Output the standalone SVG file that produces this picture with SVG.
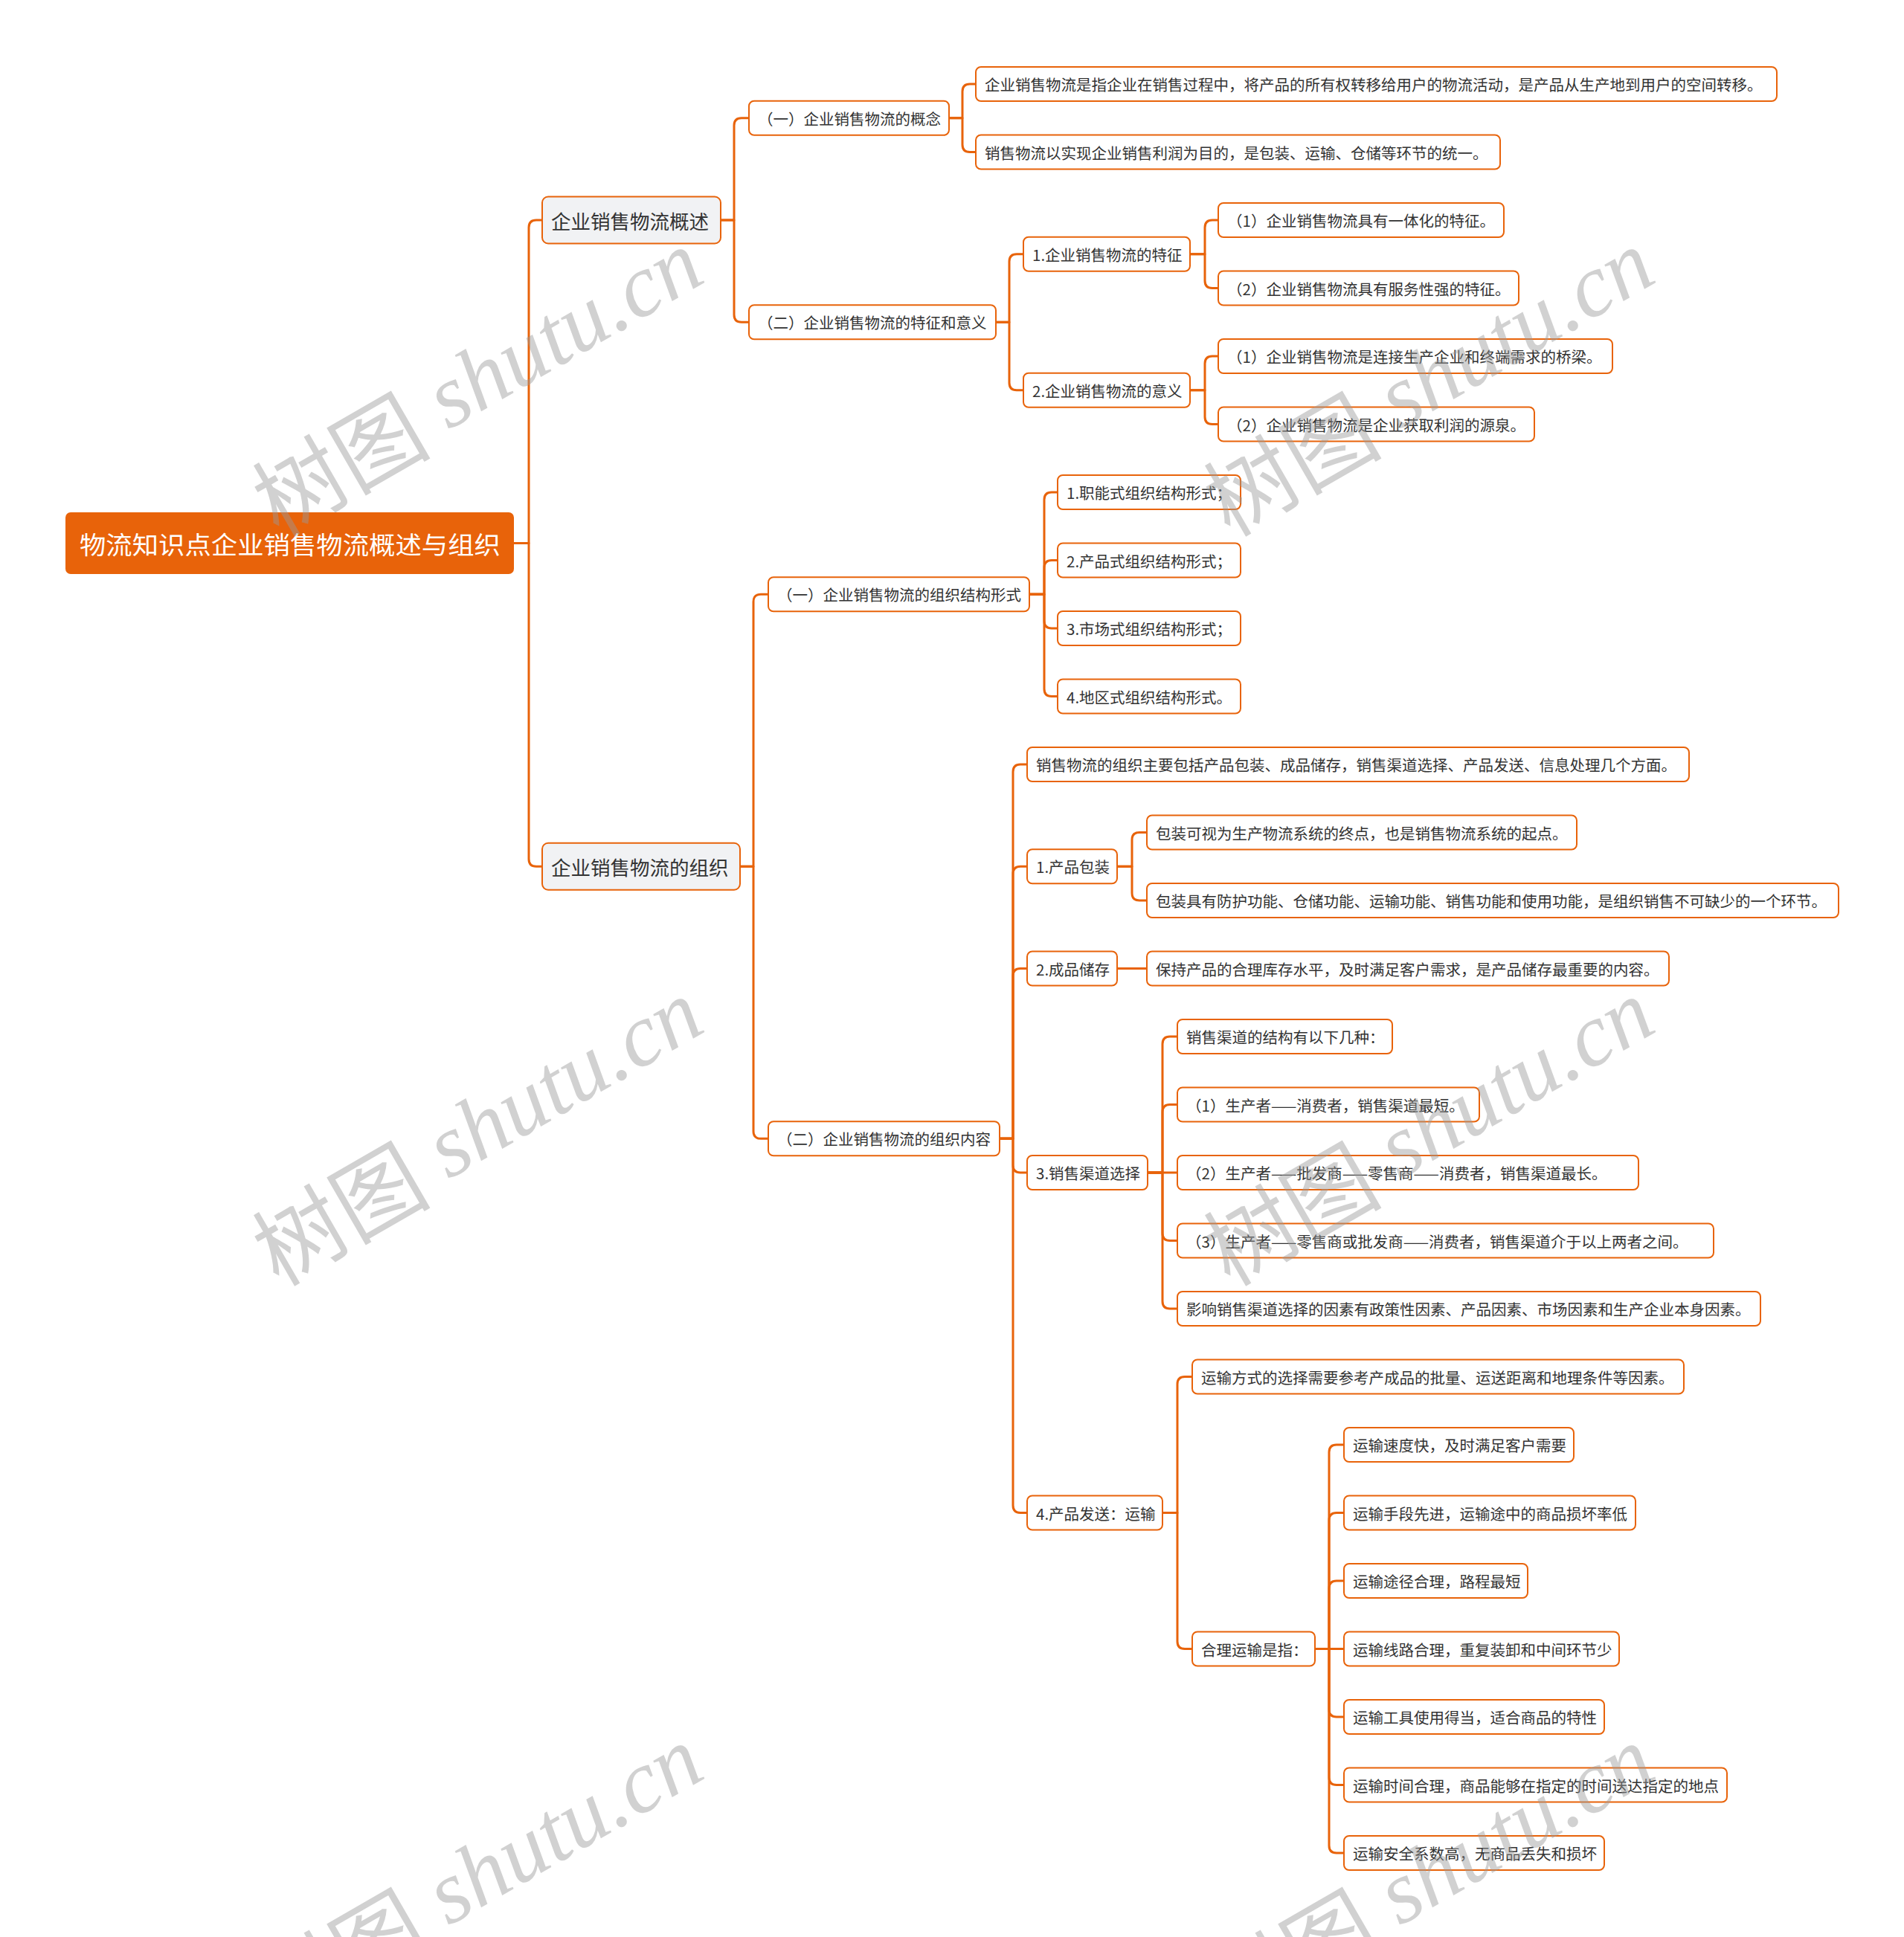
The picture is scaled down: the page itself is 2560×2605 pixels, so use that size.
<svg xmlns="http://www.w3.org/2000/svg" width="2560" height="2605" viewBox="0 0 2560 2605">
<style>
.c{fill:none;stroke:#E8630A;stroke-width:3;stroke-linejoin:round}
.b{fill:#fff;stroke:#E8630A;stroke-width:2}
.l1{fill:#F1F2F4;stroke:#E8630A;stroke-width:2}
.root{fill:#E8630A}
.t{font-family:"Noto Sans CJK SC","Noto Sans",sans-serif;font-size:20.5px;fill:#333;dominant-baseline:central}
.t1{font-family:"Noto Sans CJK SC","Noto Sans",sans-serif;font-size:26.5px;fill:#333;dominant-baseline:central}
.tr{font-family:"Noto Sans CJK SC","Noto Sans",sans-serif;font-size:33.5px;fill:#fff;dominant-baseline:central}
.wm{font-size:120px;fill:#9a9a9a;opacity:0.45;text-anchor:middle;dominant-baseline:central}
.wc{font-family:"Noto Sans CJK SC",sans-serif}
.ws{font-family:"Liberation Serif",serif;font-style:italic}
</style>
<rect width="2560" height="2605" fill="#fff"/>
<g id="connectors">
<path class="c" d="M691 730.6 H711 V306 Q711 296 721 296 H729"/>
<path class="c" d="M691 730.6 H711 V1155.25 Q711 1165.25 721 1165.25 H729"/>
<path class="c" d="M969 296 H987 V168.75 Q987 158.75 997 158.75 H1007"/>
<path class="c" d="M969 296 H987 V423.25 Q987 433.25 997 433.25 H1007"/>
<path class="c" d="M1276 158.75 H1294 V123 Q1294 113 1304 113 H1312"/>
<path class="c" d="M1276 158.75 H1294 V194.5 Q1294 204.5 1304 204.5 H1312"/>
<path class="c" d="M1339 433.25 H1357 V351.75 Q1357 341.75 1367 341.75 H1376"/>
<path class="c" d="M1339 433.25 H1357 V514.75 Q1357 524.75 1367 524.75 H1376"/>
<path class="c" d="M1600 341.75 H1620 V306 Q1620 296 1630 296 H1638"/>
<path class="c" d="M1600 341.75 H1620 V377.5 Q1620 387.5 1630 387.5 H1638"/>
<path class="c" d="M1600 524.75 H1620 V489 Q1620 479 1630 479 H1638"/>
<path class="c" d="M1600 524.75 H1620 V560.5 Q1620 570.5 1630 570.5 H1638"/>
<path class="c" d="M995 1165.25 H1013 V809.25 Q1013 799.25 1023 799.25 H1033"/>
<path class="c" d="M995 1165.25 H1013 V1521.25 Q1013 1531.25 1023 1531.25 H1033"/>
<path class="c" d="M1384 799.25 H1404 V672 Q1404 662 1414 662 H1422"/>
<path class="c" d="M1384 799.25 H1404 V763.5 Q1404 753.5 1414 753.5 H1422"/>
<path class="c" d="M1384 799.25 H1404 V835 Q1404 845 1414 845 H1422"/>
<path class="c" d="M1384 799.25 H1404 V926.5 Q1404 936.5 1414 936.5 H1422"/>
<path class="c" d="M1344 1531.25 H1362 V1038 Q1362 1028 1372 1028 H1381"/>
<path class="c" d="M1344 1531.25 H1362 V1175.25 Q1362 1165.25 1372 1165.25 H1381"/>
<path class="c" d="M1344 1531.25 H1362 V1312.5 Q1362 1302.5 1372 1302.5 H1381"/>
<path class="c" d="M1344 1531.25 H1362 V1567 Q1362 1577 1372 1577 H1381"/>
<path class="c" d="M1344 1531.25 H1362 V2024.5 Q1362 2034.5 1372 2034.5 H1381"/>
<path class="c" d="M1502 1165.25 H1522 V1129.5 Q1522 1119.5 1532 1119.5 H1542"/>
<path class="c" d="M1502 1165.25 H1522 V1201 Q1522 1211 1532 1211 H1542"/>
<path class="c" d="M1502 1302.5 H1542"/>
<path class="c" d="M1543 1577 H1563 V1404 Q1563 1394 1573 1394 H1583"/>
<path class="c" d="M1543 1577 H1563 V1495.5 Q1563 1485.5 1573 1485.5 H1583"/>
<path class="c" d="M1543 1577 H1583"/>
<path class="c" d="M1543 1577 H1563 V1658.5 Q1563 1668.5 1573 1668.5 H1583"/>
<path class="c" d="M1543 1577 H1563 V1750 Q1563 1760 1573 1760 H1583"/>
<path class="c" d="M1563 2034.5 H1583 V1861.5 Q1583 1851.5 1593 1851.5 H1603"/>
<path class="c" d="M1563 2034.5 H1583 V2207.5 Q1583 2217.5 1593 2217.5 H1603"/>
<path class="c" d="M1768 2217.5 H1787 V1953 Q1787 1943 1797 1943 H1807"/>
<path class="c" d="M1768 2217.5 H1787 V2044.5 Q1787 2034.5 1797 2034.5 H1807"/>
<path class="c" d="M1768 2217.5 H1787 V2136 Q1787 2126 1797 2126 H1807"/>
<path class="c" d="M1768 2217.5 H1807"/>
<path class="c" d="M1768 2217.5 H1787 V2299 Q1787 2309 1797 2309 H1807"/>
<path class="c" d="M1768 2217.5 H1787 V2390.5 Q1787 2400.5 1797 2400.5 H1807"/>
<path class="c" d="M1768 2217.5 H1787 V2482 Q1787 2492 1797 2492 H1807"/>
</g>
<g id="root"><rect class="root" x="88" y="689" width="603" height="83" rx="7"/><text class="tr" x="107" y="730.6" textLength="566" lengthAdjust="spacingAndGlyphs">物流知识点企业销售物流概述与组织</text></g>
<g id="n1"><rect class="l1" x="729" y="264.5" width="240" height="63" rx="8"/><text class="t1" x="741" y="296">企业销售物流概述</text></g>
<g id="n2"><rect class="l1" x="729" y="1133.75" width="266" height="63" rx="8"/><text class="t1" x="741" y="1165.25">企业销售物流的组织</text></g>
<g id="n1a"><rect class="b" x="1007" y="135.75" width="269" height="46" rx="7"/><text class="t" x="1019" y="158.75">（一）企业销售物流的概念</text></g>
<g id="n1b"><rect class="b" x="1007" y="410.25" width="332" height="46" rx="7"/><text class="t" x="1019" y="433.25">（二）企业销售物流的特征和意义</text></g>
<g id="n1a1"><rect class="b" x="1312" y="90" width="1077" height="46" rx="7"/><text class="t" x="1324" y="113">企业销售物流是指企业在销售过程中，将产品的所有权转移给用户的物流活动，是产品从生产地到用户的空间转移。</text></g>
<g id="n1a2"><rect class="b" x="1312" y="181.5" width="705" height="46" rx="7"/><text class="t" x="1324" y="204.5">销售物流以实现企业销售利润为目的，是包装、运输、仓储等环节的统一。</text></g>
<g id="n1b1"><rect class="b" x="1376" y="318.75" width="224" height="46" rx="7"/><text class="t" x="1388" y="341.75">1.企业销售物流的特征</text></g>
<g id="n1b2"><rect class="b" x="1376" y="501.75" width="224" height="46" rx="7"/><text class="t" x="1388" y="524.75">2.企业销售物流的意义</text></g>
<g id="n1b1a"><rect class="b" x="1638" y="273" width="384" height="46" rx="7"/><text class="t" x="1650" y="296">（1）企业销售物流具有一体化的特征。</text></g>
<g id="n1b1b"><rect class="b" x="1638" y="364.5" width="404" height="46" rx="7"/><text class="t" x="1650" y="387.5">（2）企业销售物流具有服务性强的特征。</text></g>
<g id="n1b2a"><rect class="b" x="1638" y="456" width="530" height="46" rx="7"/><text class="t" x="1650" y="479">（1）企业销售物流是连接生产企业和终端需求的桥梁。</text></g>
<g id="n1b2b"><rect class="b" x="1638" y="547.5" width="425" height="46" rx="7"/><text class="t" x="1650" y="570.5">（2）企业销售物流是企业获取利润的源泉。</text></g>
<g id="n2a"><rect class="b" x="1033" y="776.25" width="351" height="46" rx="7"/><text class="t" x="1045" y="799.25">（一）企业销售物流的组织结构形式</text></g>
<g id="n2b"><rect class="b" x="1033" y="1508.25" width="311" height="46" rx="7"/><text class="t" x="1045" y="1531.25">（二）企业销售物流的组织内容</text></g>
<g id="n2a1"><rect class="b" x="1422" y="639" width="246" height="46" rx="7"/><text class="t" x="1434" y="662">1.职能式组织结构形式；</text></g>
<g id="n2a2"><rect class="b" x="1422" y="730.5" width="246" height="46" rx="7"/><text class="t" x="1434" y="753.5">2.产品式组织结构形式；</text></g>
<g id="n2a3"><rect class="b" x="1422" y="822" width="246" height="46" rx="7"/><text class="t" x="1434" y="845">3.市场式组织结构形式；</text></g>
<g id="n2a4"><rect class="b" x="1422" y="913.5" width="246" height="46" rx="7"/><text class="t" x="1434" y="936.5">4.地区式组织结构形式。</text></g>
<g id="n2b0"><rect class="b" x="1381" y="1005" width="890" height="46" rx="7"/><text class="t" x="1393" y="1028">销售物流的组织主要包括产品包装、成品储存，销售渠道选择、产品发送、信息处理几个方面。</text></g>
<g id="n2b1"><rect class="b" x="1381" y="1142.25" width="121" height="46" rx="7"/><text class="t" x="1393" y="1165.25">1.产品包装</text></g>
<g id="n2b1a"><rect class="b" x="1542" y="1096.5" width="578" height="46" rx="7"/><text class="t" x="1554" y="1119.5">包装可视为生产物流系统的终点，也是销售物流系统的起点。</text></g>
<g id="n2b1b"><rect class="b" x="1542" y="1188" width="930" height="46" rx="7"/><text class="t" x="1554" y="1211">包装具有防护功能、仓储功能、运输功能、销售功能和使用功能，是组织销售不可缺少的一个环节。</text></g>
<g id="n2b2"><rect class="b" x="1381" y="1279.5" width="121" height="46" rx="7"/><text class="t" x="1393" y="1302.5">2.成品储存</text></g>
<g id="n2b2a"><rect class="b" x="1542" y="1279.5" width="702" height="46" rx="7"/><text class="t" x="1554" y="1302.5">保持产品的合理库存水平，及时满足客户需求，是产品储存最重要的内容。</text></g>
<g id="n2b3"><rect class="b" x="1381" y="1554" width="162" height="46" rx="7"/><text class="t" x="1393" y="1577">3.销售渠道选择</text></g>
<g id="n2b3a"><rect class="b" x="1583" y="1371" width="289" height="46" rx="7"/><text class="t" x="1595" y="1394">销售渠道的结构有以下几种：</text></g>
<g id="n2b3b"><rect class="b" x="1583" y="1462.5" width="406" height="46" rx="7"/><text class="t" x="1595" y="1485.5">（1）生产者——消费者，销售渠道最短。</text></g>
<g id="n2b3c"><rect class="b" x="1583" y="1554" width="620" height="46" rx="7"/><text class="t" x="1595" y="1577">（2）生产者——批发商——零售商——消费者，销售渠道最长。</text></g>
<g id="n2b3d"><rect class="b" x="1583" y="1645.5" width="721" height="46" rx="7"/><text class="t" x="1595" y="1668.5">（3）生产者——零售商或批发商——消费者，销售渠道介于以上两者之间。</text></g>
<g id="n2b3e"><rect class="b" x="1583" y="1737" width="784" height="46" rx="7"/><text class="t" x="1595" y="1760">影响销售渠道选择的因素有政策性因素、产品因素、市场因素和生产企业本身因素。</text></g>
<g id="n2b4"><rect class="b" x="1381" y="2011.5" width="182" height="46" rx="7"/><text class="t" x="1393" y="2034.5">4.产品发送：运输</text></g>
<g id="n2b4a"><rect class="b" x="1603" y="1828.5" width="661" height="46" rx="7"/><text class="t" x="1615" y="1851.5">运输方式的选择需要参考产成品的批量、运送距离和地理条件等因素。</text></g>
<g id="n2b4b"><rect class="b" x="1603" y="2194.5" width="165" height="46" rx="7"/><text class="t" x="1615" y="2217.5">合理运输是指：</text></g>
<g id="n2b4b1"><rect class="b" x="1807" y="1920" width="309" height="46" rx="7"/><text class="t" x="1819" y="1943">运输速度快，及时满足客户需要</text></g>
<g id="n2b4b2"><rect class="b" x="1807" y="2011.5" width="392" height="46" rx="7"/><text class="t" x="1819" y="2034.5">运输手段先进，运输途中的商品损坏率低</text></g>
<g id="n2b4b3"><rect class="b" x="1807" y="2103" width="247" height="46" rx="7"/><text class="t" x="1819" y="2126">运输途径合理，路程最短</text></g>
<g id="n2b4b4"><rect class="b" x="1807" y="2194.5" width="370" height="46" rx="7"/><text class="t" x="1819" y="2217.5">运输线路合理，重复装卸和中间环节少</text></g>
<g id="n2b4b5"><rect class="b" x="1807" y="2286" width="350" height="46" rx="7"/><text class="t" x="1819" y="2309">运输工具使用得当，适合商品的特性</text></g>
<g id="n2b4b6"><rect class="b" x="1807" y="2377.5" width="515" height="46" rx="7"/><text class="t" x="1819" y="2400.5">运输时间合理，商品能够在指定的时间送达指定的地点</text></g>
<g id="n2b4b7"><rect class="b" x="1807" y="2469" width="350" height="46" rx="7"/><text class="t" x="1819" y="2492">运输安全系数高，无商品丢失和损坏</text></g>
<g id="watermark">
<text class="wm" x="640" y="510" transform="rotate(-30 640 510)"><tspan class="wc">树图</tspan><tspan class="ws"> shutu.cn</tspan></text>
<text class="wm" x="1919" y="510" transform="rotate(-30 1919 510)"><tspan class="wc">树图</tspan><tspan class="ws"> shutu.cn</tspan></text>
<text class="wm" x="640" y="1518" transform="rotate(-30 640 1518)"><tspan class="wc">树图</tspan><tspan class="ws"> shutu.cn</tspan></text>
<text class="wm" x="1919" y="1518" transform="rotate(-30 1919 1518)"><tspan class="wc">树图</tspan><tspan class="ws"> shutu.cn</tspan></text>
<text class="wm" x="640" y="2522" transform="rotate(-30 640 2522)"><tspan class="wc">树图</tspan><tspan class="ws"> shutu.cn</tspan></text>
<text class="wm" x="1919" y="2522" transform="rotate(-30 1919 2522)"><tspan class="wc">树图</tspan><tspan class="ws"> shutu.cn</tspan></text>
</g>
</svg>
